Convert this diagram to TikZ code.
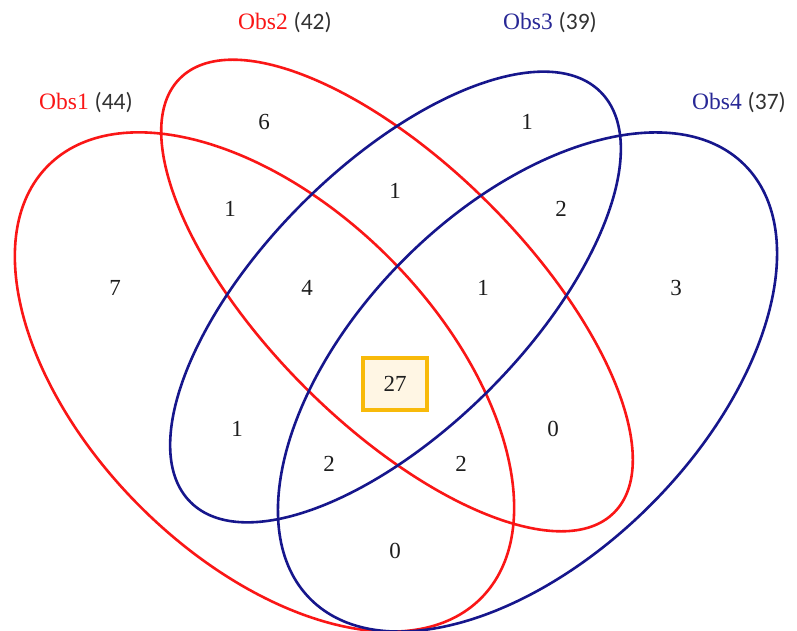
\documentclass[tikz,border=0pt]{standalone}
\usepackage{fontspec}
\setmainfont{Liberation Serif}
\newfontfamily\calib{Carlito}
\definecolor{vred}{RGB}{250,22,22}
\definecolor{vblue}{RGB}{22,22,140}
\definecolor{lblue}{RGB}{40,40,150}
\definecolor{txt}{RGB}{30,30,30}
\definecolor{cnt}{RGB}{50,50,50}
\definecolor{gold}{RGB}{248,186,10}
\definecolor{cream}{RGB}{255,246,228}
\begin{document}
\begin{tikzpicture}[x=1pt,y=1pt,
  ell/.style={line width=2.6pt},
  num/.style={text=txt,font=\fontsize{23}{27}\selectfont,inner sep=0pt},
  lab/.style={font=\fontsize{23.5}{27}\selectfont,inner sep=0pt,anchor=base},
  hbox/.style={draw=gold,line width=3.2pt,fill=cream,minimum width=64pt,minimum height=52pt,text=txt,font=\fontsize{23}{27}\selectfont}]
\fill[white] (0,0) rectangle (797,-631);
\useasboundingbox (0,0) rectangle (797,-631);
% centres
\coordinate (c1) at (264.5,-382);
\coordinate (c2) at (397,-295.5);
\coordinate (c3) at (395.5,-297);
\coordinate (c4) at (527.5,-382);
% ellipses
\draw[ell,vred,rotate around={-45:(c1)}] (c1) ellipse [x radius=306, y radius=176];
\draw[ell,vred,rotate around={-45:(c2)}] (c2) ellipse [x radius=307, y radius=130];
\draw[ell,vblue,rotate around={45:(c3)}] (c3) ellipse [x radius=290, y radius=132];
\draw[ell,vblue,rotate around={45:(c4)}] (c4) ellipse [x radius=307, y radius=174];
% labels
\node[lab] (l1) at (86,-110) {\textcolor{vred}{Obs1}~\textcolor{cnt}{\calib(44)}};
\node[lab] (l2) at (285,-30) {\textcolor{vred}{Obs2}~\textcolor{cnt}{\calib(42)}};
\node[lab] (l3) at (550,-30) {\textcolor{lblue}{Obs3}~\textcolor{cnt}{\calib(39)}};
\node[lab] (l4) at (739,-110) {\textcolor{lblue}{Obs4}~\textcolor{cnt}{\calib(37)}};
% counts
\node[num] (a6) at (264,-122) {6};
\node[num] (b1) at (527,-122) {1};
\node[num] (ab1) at (230,-209) {1};
\node[num] (bc1) at (395,-191) {1};
\node[num] (cd2) at (561,-209) {2};
\node[num] (o7) at (115,-288) {7};
\node[num] (m4) at (307,-288) {4};
\node[num] (m1) at (483,-288) {1};
\node[num] (f3) at (676,-288) {3};
\node[hbox] (all) at (395,-384) {27};
\node[num] (l1b) at (237,-429) {1};
\node[num] (r0) at (553,-429) {0};
\node[num] (l2b) at (329,-464) {2};
\node[num] (r2b) at (461,-464) {2};
\node[num] (b0) at (395,-551) {0};
\end{tikzpicture}
\end{document}
